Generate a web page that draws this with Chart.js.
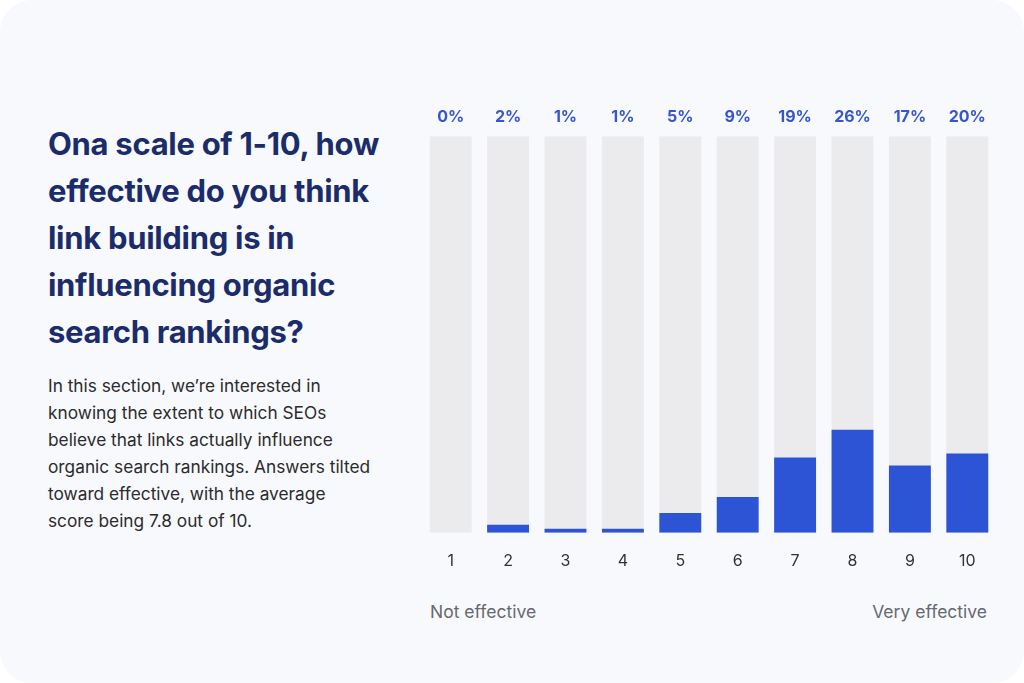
<!DOCTYPE html>
<html lang="en">
<head>
    <meta charset="UTF-8">
    <title>Link building effectiveness</title>
    <script src="https://cdn.jsdelivr.net/npm/chart.js"></script>
    <style>
        html, body {
            margin: 0;
            padding: 0;
            background: #ffffff;
            width: 1024px;
            height: 683px;
            overflow: hidden;
        }

        .card {
            position: absolute;
            left: 0;
            top: 0;
            width: 1024px;
            height: 683px;
            background: #f8f9fd;
            border-radius: 32px;
        }

        h1 {
            position: absolute;
            left: 48px;
            top: 120px;
            width: 345px;
            margin: 0;
            font-family: Inter, sans-serif;
            font-weight: 700;
            font-size: 31px;
            line-height: 47px;
            letter-spacing: -0.3px;
            color: #1b2c6b;
        }

        .intro {
            position: absolute;
            left: 48px;
            top: 372px;
            width: 325px;
            margin: 0;
            font-family: Inter, sans-serif;
            font-size: 17.3px;
            line-height: 27px;
            color: #2b2b2b;
        }

        .chart-box {
            position: absolute;
            left: 422px;
            top: 107px;
            width: 574px;
            height: 475px;
        }

        .end-label {
            position: absolute;
            top: 601px;
            font-family: Inter, sans-serif;
            font-size: 17.5px;
            color: #666a70;
        }
    </style>
</head>
<body>
    <div class="card"></div>

    <h1>Ona scale of 1-10, how effective do you think link building is in influencing organic search rankings?</h1>

    <p class="intro">In this section, we’re interested in knowing the extent to which SEOs believe that links actually influence organic search rankings. Answers tilted toward effective, with the average score being 7.8 out of 10.</p>

    <div class="chart-box">
        <canvas id="myChart"></canvas>
    </div>

    <div class="end-label" style="left: 430px;">Not effective</div>
    <div class="end-label" style="right: 37px;">Very effective</div>

    <script>
        // valores
        const scores = ['1', '2', '3', '4', '5', '6', '7', '8', '9', '10'];
        const shares = [0, 2, 1, 1, 5, 9, 19, 26, 17, 20];
        const shareLabels = ['0%', '2%', '1%', '1%', '5%', '9%', '19%', '26%', '17%', '20%'];
        const fullTrack = [100, 100, 100, 100, 100, 100, 100, 100, 100, 100];

        const ctx = document.getElementById('myChart').getContext('2d');

        const chart = new Chart(ctx, {
            type: 'bar',
            data: {
                labels: scores,
                datasets: [{
                    label: 'Respondents',
                    data: shares,
                    backgroundColor: '#2c54d4',
                    grouped: false,
                    order: 0,
                    barPercentage: 0.73,
                    categoryPercentage: 1
                }, {
                    label: 'Track',
                    data: fullTrack,
                    backgroundColor: '#ebebed',
                    grouped: false,
                    order: 1,
                    barPercentage: 0.73,
                    categoryPercentage: 1
                }]
            },
            options: {
                responsive: true,
                maintainAspectRatio: false,
                animation: false,
                layout: {
                    padding: 0
                },
                scales: {
                    x: {
                        grid: { display: false },
                        border: { display: false },
                        ticks: {
                            color: '#333333',
                            padding: 11,
                            font: { family: 'Inter', size: 16 }
                        }
                    },
                    x2: {
                        type: 'category',
                        position: 'top',
                        labels: shareLabels,
                        grid: { display: false },
                        border: { display: false },
                        ticks: {
                            color: '#3556cc',
                            padding: 1,
                            font: { family: 'Inter', size: 16, weight: 'bold' }
                        }
                    },
                    y: {
                        display: false,
                        min: 0,
                        max: 100
                    }
                },
                plugins: {
                    legend: { display: false },
                    tooltip: { enabled: false }
                }
            }
        });
    </script>
</body>
</html>
